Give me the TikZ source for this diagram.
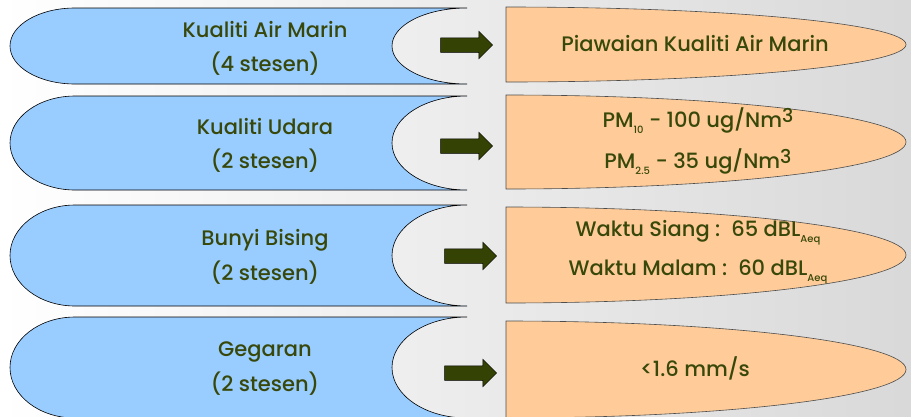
\documentclass[tikz,border=0pt]{standalone}
\usepackage{fontspec}
\setmainfont{Poppins}[UprightFont=* Medium]
\usetikzlibrary{shapes.arrows}
\definecolor{bluefill}{HTML}{99CCFF}
\definecolor{orangefill}{HTML}{FFCC99}
\definecolor{txtc}{RGB}{56,72,10}
\definecolor{arrc}{RGB}{52,66,4}
\newcommand\leftblob[3]{% top bottom name
  \path[blueshape] (467,#1) -- (75,#1)
    arc[start angle=270,end angle=90,x radius=65,y radius={(#2-#1)/2}]
    -- (467,#2)
    arc[start angle=90,end angle=270,x radius=75,y radius={(#2-#1)/2}] -- cycle;
  \coordinate (#3) at (265,{(#1+#2)/2});}
\newcommand\rightblob[3]{% top bottom name
  \path[orshape] (506,#1)
    arc[start angle=-90,end angle=90,x radius=400,y radius={(#2-#1)/2}]
    -- cycle;
  \coordinate (#3) at (700,{(#1+#2)/2});}
\newcommand\subs[1]{\raisebox{-6pt}{\fontsize{10}{10}\selectfont #1}}
\newcommand\sups[1]{\raisebox{5pt}{\fontsize{19}{19}\selectfont #1}}
\begin{document}
\begin{tikzpicture}[x=1pt,y=-1pt,
  lbl/.style={text=txtc,font=\fontsize{21}{24}\selectfont,inner sep=0pt},
  blueshape/.style={fill=bluefill,draw=black,line width=0.6pt},
  orshape/.style={fill=orangefill,draw=black!70,line width=0.6pt},
  bigarrow/.style={single arrow, fill=arrc, draw=black, line width=0.5pt,
    minimum height=52pt, inner xsep=0pt, inner ysep=7pt,
    single arrow head extend=6.5pt, single arrow head indent=0pt}]
\useasboundingbox (0,0) rectangle (911,416);
\clip (0,0) rectangle (911,416);
\shade[left color=white,right color=gray!30] (0,0) rectangle (911,416);

\leftblob{8}{84}{L1}
\leftblob{96}{190}{L2}
\leftblob{205}{306}{L3}
\leftblob{317}{418}{L4}

\rightblob{7}{82}{R1}
\rightblob{95}{189}{R2}
\rightblob{207}{303}{R3}
\rightblob{321}{418}{R4}

\node[bigarrow] (a1) at (463,45) {};
\node[bigarrow] (a2) at (463,146) {};
\node[bigarrow] (a3) at (467,256) {};
\node[bigarrow] (a4) at (467,373) {};

\node[lbl] (l1a) at (265,30) {Kualiti Air Marin};
\node[lbl] (l1b) at (265,64) {(4 stesen)};
\node[lbl] (l2a) at (265,127) {Kualiti Udara};
\node[lbl] (l2b) at (265,161) {(2 stesen)};
\node[lbl] (l3a) at (265,240) {Bunyi Bising};
\node[lbl] (l3b) at (265,273) {(2 stesen)};
\node[lbl] (l4a) at (265,352) {Gegaran};
\node[lbl] (l4b) at (265,384) {(2 stesen)};

\node[lbl] (r1) at (695,44) {Piawaian Kualiti Air Marin};
\node[lbl] (r2a) at (698,121) {PM\subs{10}\ - 100 ug/Nm\sups{3}};
\node[lbl] (r2b) at (698,162) {PM\subs{2.5}\ - 35 ug/Nm\sups{3}};
\node[lbl] (r3a) at (698,233) {Waktu Siang :\ \ 65 dBL\subs{Aeq}};
\node[lbl] (r3b) at (698,272) {Waktu Malam :\ \ 60 dBL\subs{Aeq}};
\node[lbl] (r4) at (695,368) {<1.6 mm/s};
\end{tikzpicture}
\end{document}
